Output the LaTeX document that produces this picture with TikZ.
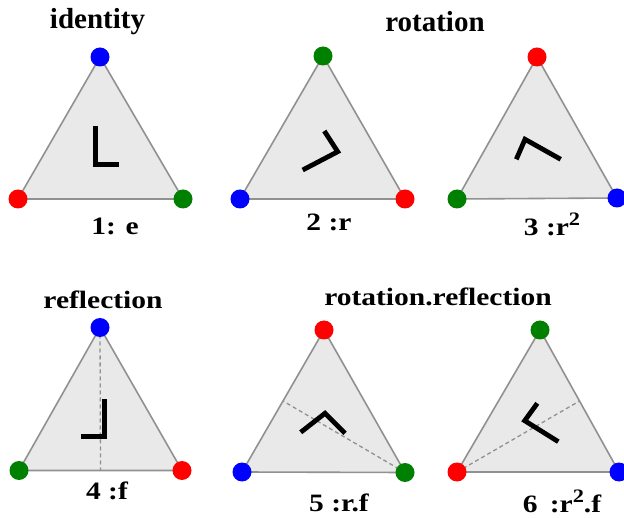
\documentclass[tikz,border=0pt]{standalone}
\usepackage{fontspec}
\setmainfont{Liberation Serif}[BoldFont={Liberation Serif Bold}]
\usepackage{graphicx}
\usetikzlibrary{calc}
\definecolor{tfill}{RGB}{233,233,233}
\definecolor{tedge}{RGB}{145,145,145}
\definecolor{vred}{RGB}{255,0,0}
\definecolor{vblue}{RGB}{0,0,255}
\definecolor{vgreen}{RGB}{0,128,0}
\newcommand{\SupTwo}{\raisebox{10pt}{\fontsize{19}{19}\selectfont 2}}
\newcommand{\Wide}[1]{\scalebox{1.18}[1]{#1}}
\tikzset{
  tri/.style={fill=tfill, draw=tedge, line width=1.6pt, line join=round},
  vdot/.style={circle, inner sep=0pt, minimum size=19pt},
  lstroke/.style={line width=4.8pt, line cap=butt, line join=miter, draw=black},
  mirrorline/.style={draw=tedge, line width=1.3pt, dash pattern=on 4pt off 3pt},
  title/.style={font=\fontsize{29}{29}\selectfont\bfseries, anchor=base, inner sep=0pt},
  lbl/.style={font=\fontsize{25}{25}\selectfont\bfseries, anchor=base, inner sep=0pt},
}
\newcommand{\DrawTri}[4]{%
  \coordinate (t#1) at #2;
  \coordinate (b#1) at #3;
  \coordinate (c#1) at #4;
  \draw[tri] (t#1) -- (b#1) -- (c#1) -- cycle;
}
\newcommand{\DrawDots}[4]{%
  \node[vdot, fill=#2] (dt#1) at (t#1) {};
  \node[vdot, fill=#3] (db#1) at (b#1) {};
  \node[vdot, fill=#4] (dc#1) at (c#1) {};
}
\begin{document}
\begin{tikzpicture}[x=1pt, y=-1pt]
  \useasboundingbox (0,0) rectangle (624,518);
  \fill[white] (0,0) rectangle (624,518);

  % ---------- triangle 1: identity ----------
  \DrawTri{1}{(100,57)}{(18,199)}{(183,199)}
  \coordinate (l1a) at (95.5,126);
  \coordinate (l1b) at (95.5,164.5);
  \coordinate (l1c) at (118.5,164.5);
  \draw[lstroke] (l1a) -- (l1b) -- (l1c);
  \DrawDots{1}{vblue}{vred}{vgreen}

  % ---------- triangle 2: r ----------
  \DrawTri{2}{(323,56)}{(240,199)}{(405,199)}
  \coordinate (l2a) at (324.3,131);
  \coordinate (l2b) at (337.7,151.7);
  \coordinate (l2c) at (302.7,170);
  \draw[lstroke] (l2a) -- (l2b) -- (l2c);
  \DrawDots{2}{vgreen}{vblue}{vred}

  % ---------- triangle 3: r^2 ----------
  \DrawTri{3}{(537,57)}{(457,199)}{(617,198)}
  \coordinate (l3a) at (516.3,159.3);
  \coordinate (l3b) at (525,139.3);
  \coordinate (l3c) at (560.7,159.3);
  \draw[lstroke] (l3a) -- (l3b) -- (l3c);
  \DrawDots{3}{vred}{vgreen}{vblue}

  % ---------- triangle 4: f ----------
  \DrawTri{4}{(100,327.5)}{(19,470.5)}{(182,470.5)}
  \coordinate (m4) at ($(b4)!0.5!(c4)$);
  \draw[mirrorline] (t4) -- (m4);
  \coordinate (l4a) at (104.3,399.3);
  \coordinate (l4b) at (104.3,436.7);
  \coordinate (l4c) at (81,436.7);
  \draw[lstroke] (l4a) -- (l4b) -- (l4c);
  \DrawDots{4}{vblue}{vgreen}{vred}

  % ---------- triangle 5: r.f ----------
  \DrawTri{5}{(324,330)}{(242,472)}{(405,472.5)}
  \coordinate (m5) at ($(t5)!0.5!(b5)$);
  \draw[mirrorline] (c5) -- (m5);
  \coordinate (l5a) at (300.7,432.3);
  \coordinate (l5b) at (325,413.3);
  \coordinate (l5c) at (345,433.3);
  \draw[lstroke] (l5a) -- (l5b) -- (l5c);
  \DrawDots{5}{vred}{vblue}{vgreen}

  % ---------- triangle 6: r^2.f ----------
  \DrawTri{6}{(540,330)}{(457,472)}{(619,472)}
  \coordinate (m6) at ($(t6)!0.5!(c6)$);
  \draw[mirrorline] (b6) -- (m6);
  \coordinate (l6a) at (537.3,403.3);
  \coordinate (l6b) at (524.7,420.7);
  \coordinate (l6c) at (558.3,441.7);
  \draw[lstroke] (l6a) -- (l6b) -- (l6c);
  \DrawDots{6}{vgreen}{vred}{vblue}

  % ---------- titles ----------
  \node[title] (ttl1) at (97.5,29) {identity};
  \node[title] (ttl2) at (435,32) {rotation};
  \node[lbl] (ttl3) at (103,309) {\Wide{reflection}};
  \node[lbl] (ttl4) at (438,306) {\Wide{rotation.reflection}};

  % ---------- labels ----------
  \node[lbl] (lab1) at (115,235) {\Wide{1: e}};
  \node[lbl] (lab2) at (329,231) {\Wide{2 :r}};
  \node[lbl] (lab3) at (552,236) {\Wide{3 :r\SupTwo}};
  \node[lbl] (lab4) at (107,500) {\Wide{4 :f}};
  \node[lbl] (lab5) at (339,511) {\Wide{5 :r.f}};
  \node[lbl] (lab6) at (562,512) {\Wide{6 \,:r\SupTwo.f}};
\end{tikzpicture}
\end{document}
